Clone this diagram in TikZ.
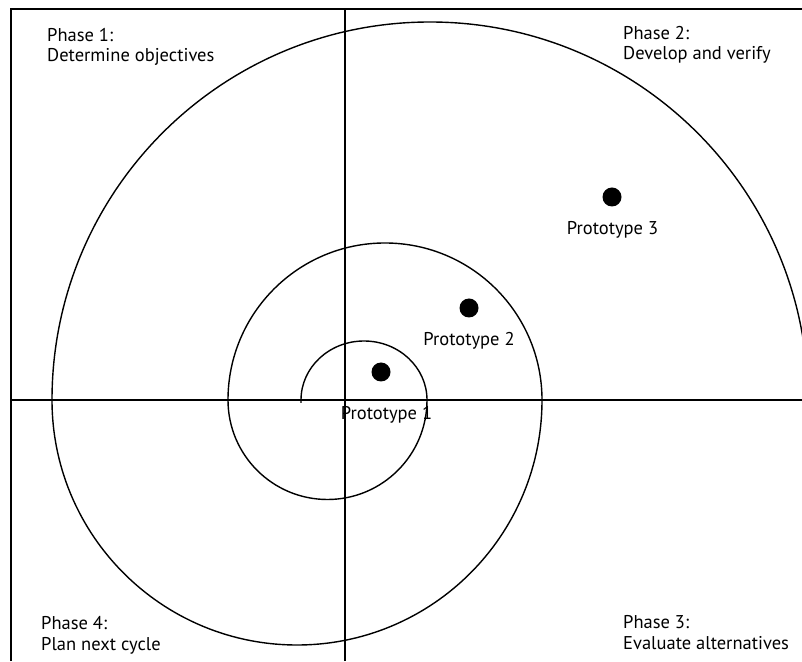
\documentclass[tikz,border=0pt]{standalone}
\usepackage{fontspec}
\setmainfont{PT Sans}

\tikzset{
	phase/.style={align=left, anchor=base west, inner sep=0pt, font=\fontsize{18.5}{20.5}\selectfont},
	proto/.style={circle, fill=black, inner sep=0pt, minimum size=19pt},
	protolabel/.style={anchor=base, inner sep=0pt, font=\fontsize{18.5}{20.5}\selectfont},
	spiral/.style={line width=1.4pt},
	axis/.style={line width=1.5pt}
}

\begin{document}
\begin{tikzpicture}[x=1pt,y=1pt]
	\useasboundingbox (0,0) rectangle (802,661);
	\clip (0,0) rectangle (802,661);

	\draw[line width=2pt] (11,0) -- (11,652) -- (802,652);
	\draw[axis] (11,261) -- (802,261);
	\draw[axis] (345,0) -- (345,652);

	\draw[spiral] (301,258) -- (301,261)
		arc[start angle=180, end angle=0, x radius=63, y radius=59]
		arc[start angle=0, end angle=-180, radius=99.5]
		arc[start angle=180, end angle=0, radius=157]
		arc[start angle=0, end angle=-180, radius=245]
		arc[start angle=180, end angle=0, radius=378];

	\node[proto] (p1) at (381,289) {};
	\node[proto] (p2) at (469,353) {};
	\node[proto] (p3) at (612,464) {};
	\node[protolabel] (p1label) at (386.5,241) {Prototype 1};
	\node[protolabel] (p2label) at (469,315) {Prototype 2};
	\node[protolabel] (p3label) at (612.5,426) {Prototype 3};

	\node[phase] (phase1) at (47,599.3) {Phase 1:\\Determine objectives};
	\node[phase] (phase2) at (623,601) {Phase 2:\\Develop and verify};
	\node[phase] (phase3) at (623,11.7) {Phase 3:\\Evaluate alternatives};
	\node[phase] (phase4) at (41,11) {Phase 4:\\Plan next cycle};
\end{tikzpicture}
\end{document}
